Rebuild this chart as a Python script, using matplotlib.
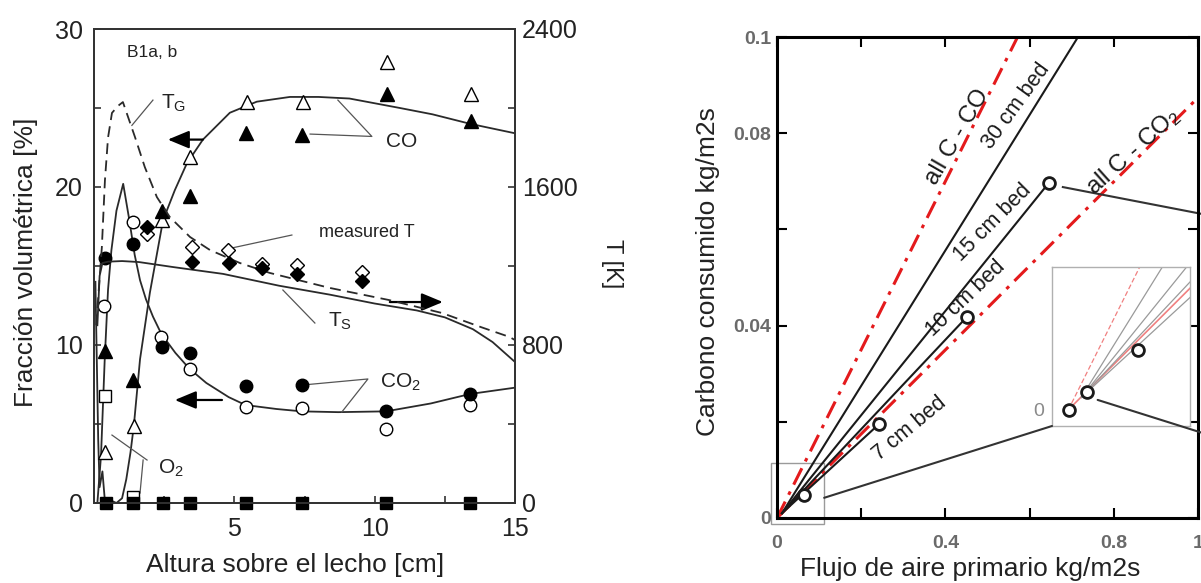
import matplotlib
matplotlib.use("Agg")
import matplotlib.pyplot as plt
from matplotlib.patches import Rectangle, ConnectionPatch

plt.rcParams["font.family"] = ["Liberation Sans", "DejaVu Sans"]
plt.rcParams["mathtext.fontset"] = "custom"
plt.rcParams["mathtext.rm"] = "Liberation Sans"
plt.rcParams["mathtext.it"] = "Liberation Sans:italic"

# ---------------- left panel: gas composition and temperature ----------------
# measured CO (filled: case a, open: case b)
co_a_x = [0.39, 1.39, 2.42, 3.42, 5.41, 7.40, 10.43, 13.45]
co_a = [9.6, 7.8, 18.5, 19.4, 23.4, 23.3, 25.9, 24.2]
co_b_x = [0.39, 1.42, 2.42, 3.42, 5.44, 7.44, 10.43, 13.45]
co_b = [3.2, 4.9, 17.9, 21.9, 25.4, 25.4, 27.9, 25.9]
# measured CO2
co2_a_x = [0.39, 1.39, 2.42, 3.42, 5.41, 7.40, 10.40, 13.40]
co2_a = [15.5, 16.4, 9.9, 9.5, 7.4, 7.5, 5.8, 6.9]
co2_b_x = [0.36, 1.39, 2.38, 3.42, 5.41, 7.40, 10.40, 13.40]
co2_b = [12.5, 17.8, 10.5, 8.5, 6.1, 6.0, 4.7, 6.2]
# measured O2
o2_a_x = [0.43, 1.39, 2.46, 3.42, 5.41, 7.40, 10.40, 13.40]
o2_a = [0.0, 0.0, 0.0, 0.0, 0.0, 0.0, 0.0, 0.0]
o2_b_x = [0.39, 1.39]
o2_b = [6.8, 0.4]
# measured temperature [K]
temp_a_x = [1.89, 3.49, 4.80, 5.98, 7.22, 9.54]
temp_a = [1400, 1220, 1215, 1190, 1160, 1124]
temp_b_x = [1.89, 3.49, 4.77, 5.98, 7.22, 9.54]
temp_b = [1362, 1296, 1281, 1210, 1205, 1170]

# model curves
co_model_x = [0.55, 0.8, 1.0, 1.15, 1.3, 1.42, 1.64, 1.99, 2.46, 2.88, 3.31, 3.88,
              4.84, 5.8, 6.98, 8.0, 9.1, 10.9, 12.06, 13.4, 15.0]
co_model = [0.2, 0.0, 0.3, 1.5, 3.2, 4.9, 9.1, 13.3, 17.9, 19.8, 21.5, 23.0,
            24.7, 25.4, 25.7, 25.7, 25.6, 25.0, 24.6, 24.0, 23.4]
co2_model_x = [0.12, 0.25, 0.38, 0.5, 0.62, 0.8, 1.04, 1.25, 1.45, 1.64, 1.85, 2.1,
               2.4, 2.9, 3.4, 4.0, 4.8, 5.4, 6.5, 7.4, 8.7, 10.4, 12.0, 13.4, 15.0]
co2_model = [0.0, 3.0, 9.0, 13.5, 16.0, 18.5, 20.2, 18.0, 15.7, 14.1, 12.9, 11.8,
             10.7, 9.5, 8.5, 7.6, 6.7, 6.2, 5.95, 5.8, 5.75, 5.8, 6.3, 6.9, 7.3]
o2_model_x = [0.05, 0.1, 0.15, 0.2, 0.3, 0.38, 0.45, 0.55]
o2_model = [14.0, 9.0, 4.0, 1.0, 2.0, 0.3, 0.0, 0.0]
tg_model_x = [0.08, 0.18, 0.28, 0.39, 0.5, 0.64, 0.85, 1.03, 1.2, 1.46, 1.81, 2.24,
              2.7, 3.42, 4.13, 5.2, 6.26, 8.4, 10.5, 12.4, 13.8, 14.8, 15.0]
tg_model = [900, 1100, 1296, 1635, 1850, 1975, 2010, 2030, 1960, 1853, 1701, 1549,
            1448, 1347, 1281, 1215, 1165, 1089, 1028, 962, 890, 841, 825]
ts_model_x = [0.12, 0.2, 0.3, 0.5, 1.0, 1.6, 2.8, 4.6, 6.6, 8.4, 10.0, 11.5, 12.5,
              13.5, 14.2, 15.0]
ts_model = [900, 1150, 1215, 1222, 1225, 1220, 1195, 1160, 1100, 1055, 1010, 975,
            940, 880, 815, 714]

# ---------------- right panel: carbon consumption vs primary air ----------------
bed_names = ["7 cm bed", "10 cm bed", "15 cm bed", "30 cm bed"]
bed_end_x = [0.242, 0.451, 0.645, 0.715]
bed_end_y = [0.0195, 0.0418, 0.0696, 0.100]
bed_marked = [True, True, True, False]
bed_start = (0.012, 0.001)
extra_pt_x = [0.064]
extra_pt_y = [0.0048]
ratio_all_co = 0.175    # kg C per kg air when all carbon leaves as CO
ratio_all_co2 = 0.0874  # kg C per kg air when all carbon leaves as CO2
inset_pts_x = [0.001, 0.017, 0.064]
inset_pts_y = [0.0, 0.0014, 0.0048]

W, H = 1201, 583
fig = plt.figure(figsize=(W / 100, H / 100), dpi=100)


def box(l, t, r, b):
    return [l / W, 1 - b / H, (r - l) / W, (b - t) / H]


LC = "#2a2a2a"

ax = fig.add_axes(box(94, 29, 515, 503))
axT = ax.twinx()
ax.set_xlim(0, 15)
ax.set_ylim(0, 30)
axT.set_ylim(0, 2400)
for a in (ax, axT):
    for s in a.spines.values():
        s.set_color("#333333")
        s.set_linewidth(1.3)
ax.set_xticks([0, 2.5, 5, 7.5, 10, 12.5, 15])
ax.set_xticklabels(["", "", "5", "", "10", "", "15"])
ax.set_yticks([0, 5, 10, 15, 20, 25, 30])
ax.set_yticklabels(["0", "", "10", "", "20", "", "30"])
axT.set_yticks([0, 400, 800, 1200, 1600, 2000, 2400])
axT.set_yticklabels(["0", "", "800", "", "1600", "", "2400"])
ax.tick_params(axis="both", direction="in", length=5, width=1.1, labelsize=18,
               colors="#222222")
ax.tick_params(axis="x", pad=10, top=False)
ax.tick_params(axis="y", pad=8)
axT.tick_params(axis="y", direction="in", length=5, width=1.1, labelsize=18,
                pad=5, colors="#222222")

# model curves
ax.plot(co_model_x, co_model, color=LC, lw=1.3)
ax.plot(co2_model_x, co2_model, color=LC, lw=1.3)
ax.plot(o2_model_x, o2_model, color=LC, lw=1.3)
axT.plot(tg_model_x, tg_model, color=LC, lw=1.3, dashes=(6, 3.5))
axT.plot(ts_model_x, ts_model, color=LC, lw=1.3)

# measured points
mk = dict(linestyle="none", markeredgecolor="black", markeredgewidth=1.0)
ax.plot(o2_a_x, o2_a, marker="s", ms=9, color="black", clip_on=False, zorder=5, **mk)
ax.plot(o2_b_x, o2_b, marker="s", ms=8.5, markerfacecolor="white", zorder=4, **mk)
ax.plot(co_b_x, co_b, marker="^", ms=10, markerfacecolor="white", zorder=4, **mk)
ax.plot(co_a_x, co_a, marker="^", ms=10, color="black", zorder=5, **mk)
ax.plot(co2_b_x, co2_b, marker="o", ms=9, markerfacecolor="white", zorder=4, **mk)
ax.plot(co2_a_x, co2_a, marker="o", ms=9, color="black", zorder=5, **mk)
axT.plot(temp_b_x, temp_b, marker="D", ms=7.5, markerfacecolor="white", zorder=4, **mk)
axT.plot(temp_a_x, temp_a, marker="D", ms=7.5, color="black", zorder=5, **mk)

# annotations
tk = dict(color="#222222")
ax.text(1.17, 28.5, "B1a, b", fontsize=12.5, ha="left", va="center", **tk)
ax.text(2.4, 25.3, r"T$_\mathrm{G}$", fontsize=15, ha="left", va="center", **tk)
ax.plot([1.35, 2.1], [23.9, 25.5], color="#555555", lw=0.9)
ax.text(10.96, 22.85, "CO", fontsize=15, ha="center", va="center", **tk)
ax.plot([8.69, 9.9, 7.7], [25.5, 23.2, 23.35], color="#555555", lw=0.9)
ax.text(9.73, 17.1, "measured T", fontsize=13, ha="center", va="center", **tk)
ax.plot([7.05, 4.91], [16.96, 16.14], color="#555555", lw=0.9)
ax.text(8.35, 11.5, r"T$_\mathrm{S}$", fontsize=15, ha="left", va="center", **tk)
ax.plot([6.73, 7.87], [13.48, 11.39], color="#555555", lw=0.9)
ax.text(10.19, 7.66, r"CO$_2$", fontsize=15, ha="left", va="center", **tk)
ax.plot([7.45, 9.76, 8.83], [7.47, 7.85, 5.76], color="#555555", lw=0.9)
ax.text(2.28, 2.2, r"O$_2$", fontsize=15, ha="left", va="center", **tk)
ax.plot([0.64, 1.89], [4.3, 2.72], color="#555555", lw=0.9)
ax.plot([1.75, 1.64], [2.72, 0.63], color="#555555", lw=0.9)

ap = dict(arrowstyle="-|>,head_length=0.65,head_width=0.27", color="black", lw=1.6,
          shrinkA=0, shrinkB=0, mutation_scale=20)
ax.annotate("", xy=(2.63, 23.0), xytext=(3.88, 23.0), arrowprops=ap)
ax.annotate("", xy=(12.43, 12.72), xytext=(10.54, 12.72), arrowprops=ap)
ax.annotate("", xy=(2.88, 6.52), xytext=(4.56, 6.52), arrowprops=ap)

fig.text(26 / W, 1 - 262 / H, "Fracción volumétrica [%]", rotation=90, fontsize=19,
         ha="center", va="center", color="#222222")
fig.text(295 / W, 1 - 565 / H, "Altura sobre el lecho [cm]", fontsize=19,
         ha="center", va="center", color="#222222")
fig.text(612 / W, 1 - 264 / H, "T [K]", rotation=-90, fontsize=17,
         ha="center", va="center", color="#222222")

# ---------------- right panel ----------------
ax2 = fig.add_axes(box(777, 37, 1198, 518))
ax2.set_xlim(0, 1)
ax2.set_ylim(0, 0.1)
for s in ax2.spines.values():
    s.set_color("black")
    s.set_linewidth(2.2)
ax2.set_xticks([0, 0.2, 0.4, 0.6, 0.8, 1.0])
ax2.set_xticklabels(["0", "", "0.4", "", "0.8", "1"])
ax2.set_yticks([0, 0.02, 0.04, 0.06, 0.08, 0.1])
ax2.set_yticklabels(["0", "", "0.04", "", "0.08", "0.1"])
ax2.tick_params(axis="both", direction="in", length=7, width=1.5, labelsize=14,
                labelcolor="#6a6a6a", top=True, right=True)
ax2.tick_params(axis="x", pad=12)
ax2.tick_params(axis="y", pad=4)
for lab in ax2.get_xticklabels() + ax2.get_yticklabels():
    lab.set_fontweight("bold")

red = "#e41a1c"
xs = [0.0, 1.0]
ax2.plot(xs, [ratio_all_co * x for x in xs], color=red, lw=2.2, dashes=(6, 2.5, 1.2, 2.5))
ax2.plot(xs, [ratio_all_co2 * x for x in xs], color=red, lw=2.2, dashes=(6, 2.5, 1.2, 2.5))
for ex, ey, m in zip(bed_end_x, bed_end_y, bed_marked):
    ax2.plot([bed_start[0], ex], [bed_start[1], ey], color="#1a1a1a", lw=1.5)
    if m:
        ax2.plot([ex], [ey], marker="o", ms=8.5, mfc="white", mec="#1a1a1a", mew=2,
                 zorder=5)
ax2.plot(extra_pt_x, extra_pt_y, marker="o", ms=8.5, mfc="white", mec="#1a1a1a",
         mew=2, ls="none", zorder=5)

rt = dict(ha="center", va="center", rotation_mode="anchor", color="#1a1a1a")
ax2.text(0.4276, 0.0792, "all C - CO", rotation=60, fontsize=17.5, **rt)
ax2.text(0.5677, 0.0857, "30 cm bed", rotation=54, fontsize=15.5, **rt)
ax2.text(0.513, 0.0613, "15 cm bed", rotation=45, fontsize=15.5, **rt)
ax2.text(0.449, 0.0457, "10 cm bed", rotation=43.5, fontsize=15.5, **rt)
ax2.text(0.316, 0.0185, "7 cm bed", rotation=39.6, fontsize=15.5, **rt)
ax2.text(0.8456, 0.0761, r"all C - CO$_2$", rotation=42, fontsize=17.5, **rt)

# zoom box around the origin
zx0, zx1, zy0, zy1 = -0.015, 0.112, -0.0013, 0.0115
ax2.add_patch(Rectangle((zx0, zy0), zx1 - zx0, zy1 - zy0, fill=False, ec="#9a9a9a",
                        lw=1.0, clip_on=False))

axi = fig.add_axes(box(1052, 267, 1190, 426))
axi.set_xlim(zx0, zx1)
axi.set_ylim(zy0, zy1)
for s in axi.spines.values():
    s.set_color("#b0b0b0")
    s.set_linewidth(1.0)
axi.set_xticks([])
axi.set_yticks([0])
axi.set_yticklabels(["0"])
axi.tick_params(axis="y", length=0, labelsize=14, labelcolor="#8a8a8a", pad=6)
pink = "#f08080"
xi = [0.0, 0.2]
axi.plot(xi, [ratio_all_co * x for x in xi], color=pink, lw=0.9, dashes=(4, 2))
axi.plot(xi, [ratio_all_co2 * x for x in xi], color=pink, lw=1.2)
for ex, ey in zip(bed_end_x, bed_end_y):
    axi.plot([bed_start[0], ex], [bed_start[1], ey], color="#9a9a9a", lw=0.9)
axi.plot(inset_pts_x, inset_pts_y, marker="o", ms=8.5, mfc="white", mec="#1a1a1a",
         mew=2, ls="none", zorder=5, clip_on=False)

cp = ConnectionPatch(xyA=(zx1, 0.0042), coordsA=ax2.transData, xyB=(0, 0),
                     coordsB=axi.transAxes, color="#333333", lw=1.5)
fig.add_artist(cp)
cp2 = ConnectionPatch(xyA=(0.027, 0.0008), coordsA=axi.transData, xyB=(1.01, 0.0177),
                      coordsB=ax2.transData, color="#333333", lw=1.5)
fig.add_artist(cp2)
ax2.plot([0.679, 1.01], [0.0688, 0.0632], color="#333333", lw=1.5, clip_on=False)

fig.text(708 / W, 1 - 272 / H, "Carbono consumido kg/m2s", rotation=90, fontsize=19,
         ha="center", va="center", color="#222222")
fig.text(970 / W, 1 - 569 / H, "Flujo de aire primario kg/m2s", fontsize=19,
         ha="center", va="center", color="#222222")

fig.savefig("out.png", dpi=100)
